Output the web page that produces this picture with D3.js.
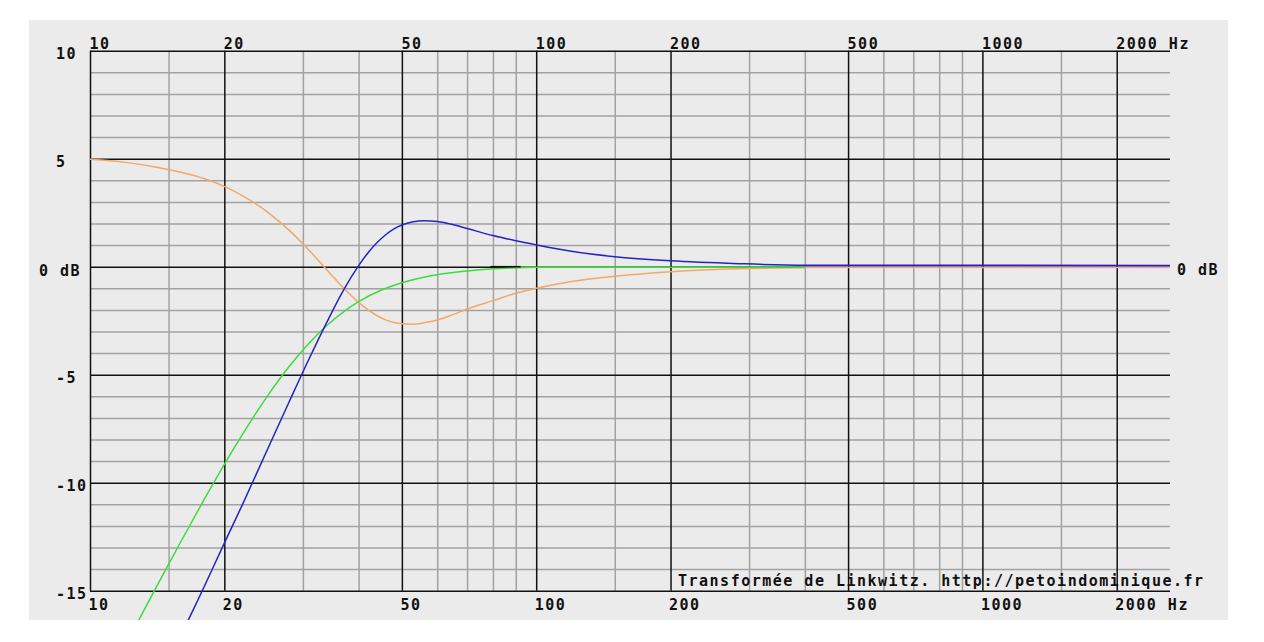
<!DOCTYPE html>
<html><head><meta charset="utf-8">
<script src="https://cdn.jsdelivr.net/npm/d3@7"></script>
<style>body{margin:0;background:#fff;overflow:hidden}svg{display:block}</style>
</head><body>
<svg id="c" width="1264" height="642"></svg>
<script>
// ---- data ----
const freqMajor = [10, 20, 50, 100, 200, 500, 1000, 2000];
const freqMajorLabels = ["10", "20", "50", "100", "200", "500", "1000", "2000 Hz"];
const freqMinor = [15, 30, 40, 60, 70, 80, 90, 150, 300, 400, 600, 700, 800, 900, 1500];
const dbMajor = [-15, -10, -5, 0, 5, 10];
const dbMinor = [-14, -13, -12, -11, -9, -8, -7, -6, -4, -3, -2, -1, 1, 2, 3, 4, 6, 7, 8, 9];
const dbLabelValues = [10, 5, 0, -5, -10, -15];
const dbLabelTexts = ["10", "5", "0 dB", "-5", "-10", "-15"];
const rightLabelValues = [0];
const rightLabelTexts = ["0 dB"];
const creditText = "Transformée de Linkwitz. http://petoindominique.fr";

// Linkwitz transform correction (orange)
const orangeCurve = [[10,4.97],[12,4.83],[14,4.62],[16,4.37],[18,4.08],[20,3.72],[22,3.28],[25,2.53],[28,1.67],[31,0.75],[34,-0.16],[37,-0.99],[40,-1.65],[42,-2.0],[44,-2.27],[46,-2.46],[48,-2.58],[50,-2.64],[53,-2.66],[56,-2.6],[60,-2.47],[65,-2.22],[70,-1.96],[80,-1.57],[90,-1.23],[100,-1.0],[120,-0.68],[150,-0.44],[200,-0.23],[284,-0.09],[400,-0.05]];
// resulting response (green)
const greenCurve = [[12,-17.55],[13,-16.18],[14,-14.93],[15,-13.78],[16,-12.71],[18,-10.8],[20,-9.15],[22,-7.74],[25,-5.98],[28,-4.6],[31,-3.53],[34,-2.71],[37,-2.09],[40,-1.62],[45,-1.08],[50,-0.74],[55,-0.52],[60,-0.37],[70,-0.2],[80,-0.1],[90,-0.05],[100,-0.03],[150,-0.02],[400,-0.02]];
// original speaker (blue)
const blueCurve = [[15,-18.26],[16,-17.05],[17,-15.92],[18,-14.84],[20,-12.8],[22,-10.98],[25,-8.45],[28,-6.22],[31,-4.25],[34,-2.54],[37,-1.08],[40,0.05],[42,0.65],[44,1.12],[46,1.48],[48,1.75],[50,1.93],[53,2.08],[56,2.13],[60,2.09],[65,1.95],[70,1.77],[80,1.44],[90,1.2],[100,1.01],[120,0.71],[150,0.46],[200,0.27],[284,0.14],[400,0.07],[2633,0.06]];
// short dark segment and pink tail on 0 dB
const darkSegment = [[78.9,0.0],[92.3,0.0]];
const pinkTail = [[400,-0.04],[2633,-0.04]];

// ---- layout ----
const svg = d3.select("#c");
const L = 90, R = 1170, T = 50.7, B = 590.7;
const bg = {x: 29, y: 20, w: 1199, h: 600};
const FONT = "'DejaVu Sans Mono', monospace";

svg.append("rect").attr("x", bg.x).attr("y", bg.y).attr("width", bg.w).attr("height", bg.h).attr("fill", "#ebebeb");
svg.append("clipPath").attr("id", "clip").append("rect")
  .attr("x", bg.x).attr("y", bg.y).attr("width", bg.w).attr("height", bg.h);

const x = d3.scaleLog().domain([10, 2633]).range([L, R]);
const y = d3.scaleLinear().domain([-15, 10]).range([B, T]);

function styleGrid(g, color, w) {
  g.select(".domain").remove();
  g.selectAll("line").attr("stroke", color).attr("stroke-width", w);
  g.selectAll("text").remove();
}
// minor grid
svg.append("g").attr("transform", `translate(${L},0)`)
  .call(d3.axisLeft(y).tickValues(dbMinor).tickSize(-(R - L)).tickFormat(""))
  .call(g => styleGrid(g, "#a2a2a2", 1.5));
svg.append("g").attr("transform", `translate(0,${B})`)
  .call(d3.axisBottom(x).tickValues(freqMinor).tickSize(-(B - T)).tickFormat(""))
  .call(g => styleGrid(g, "#a2a2a2", 1.5));
// major grid
svg.append("g").attr("transform", `translate(${L},0)`)
  .call(d3.axisLeft(y).tickValues(dbMajor).tickSize(-(R - L)).tickFormat(""))
  .call(g => styleGrid(g, "#111", 1.5));
svg.append("g").attr("transform", `translate(0,${B})`)
  .call(d3.axisBottom(x).tickValues(freqMajor).tickSize(-(B - T)).tickFormat(""))
  .call(g => styleGrid(g, "#111", 1.5));

function styleLabels(g) {
  g.select(".domain").remove();
  g.selectAll("line").remove();
  g.selectAll("text").attr("font-family", FONT).attr("font-weight", "bold")
    .attr("font-size", 15).attr("letter-spacing", "1.5px").attr("fill", "#111")
    .attr("text-anchor", "start").attr("dy", 0);
}
// top labels
svg.append("g").attr("transform", `translate(0,${T})`)
  .call(d3.axisTop(x).tickValues(freqMajor).tickSize(0).tickFormat((d, i) => freqMajorLabels[i]))
  .call(styleLabels)
  .call(g => g.selectAll("text").attr("x", -1).attr("y", -2));
// bottom labels
svg.append("g").attr("transform", `translate(0,${B})`)
  .call(d3.axisBottom(x).tickValues(freqMajor).tickSize(0).tickFormat((d, i) => freqMajorLabels[i]))
  .call(styleLabels)
  .call(g => g.selectAll("text").attr("x", -2).attr("y", 19.5));
// left labels ("0 dB" sits further left)
svg.append("g").attr("transform", `translate(56,0)`)
  .call(d3.axisLeft(y).tickValues(dbLabelValues).tickSize(0).tickFormat((d, i) => dbLabelTexts[i]))
  .call(styleLabels)
  .call(g => g.selectAll("text").attr("x", d => d === 0 ? -17 : 0).attr("y", d => d === 0 ? 8.5 : 7.5));
// right labels
svg.append("g").attr("transform", `translate(1177,0)`)
  .call(d3.axisRight(y).tickValues(rightLabelValues).tickSize(0).tickFormat((d, i) => rightLabelTexts[i]))
  .call(styleLabels)
  .call(g => g.selectAll("text").attr("x", 0).attr("y", 8));

// curves
const line = d3.line().x(d => x(d[0])).y(d => y(d[1])).curve(d3.curveMonotoneX);
const cg = svg.append("g").attr("clip-path", "url(#clip)");
const series = [
  {d: orangeCurve, c: "#f3a868", w: 1.5},
  {d: greenCurve, c: "#3ddc3d", w: 1.5},
  {d: darkSegment, c: "#111", w: 1.6},
  {d: pinkTail, c: "#f2a2a8", w: 1.5},
  {d: blueCurve, c: "#2424c4", w: 1.5}
];
cg.selectAll("path.s").data(series).join("path").attr("class", "s")
  .attr("d", s => line(s.d)).attr("fill", "none")
  .attr("stroke", s => s.c).attr("stroke-width", s => s.w);

// credit text
svg.append("text").attr("x", 678).attr("y", 586)
  .attr("font-family", FONT).attr("font-weight", "bold").attr("font-size", 15)
  .attr("letter-spacing", "1.5px").attr("fill", "#111").text(creditText);
</script>
</body></html>
